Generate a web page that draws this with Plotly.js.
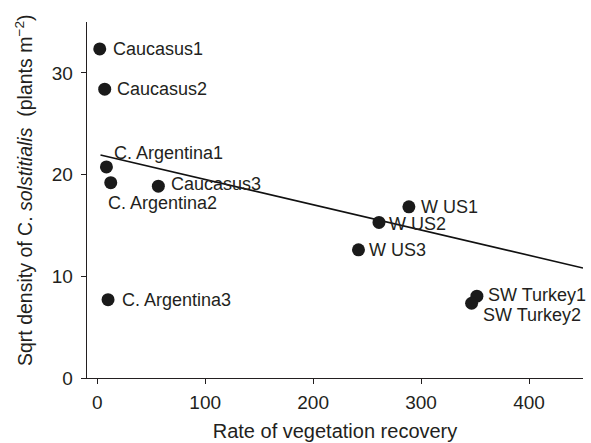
<!DOCTYPE html>
<html>
<head>
<meta charset="utf-8">
<script src="https://cdn.plot.ly/plotly-3.0.1.min.js"></script>
<style>html,body{margin:0;padding:0;background:#fff}#chart{width:591px;height:443px}</style>
</head>
<body>
<div id="chart"></div>
<script>
// Data
const sites = ["Caucasus1","Caucasus2","C. Argentina1","C. Argentina2","Caucasus3","C. Argentina3","W US1","W US2","W US3","SW Turkey1","SW Turkey2"];
const recovery = [2.3, 6.9, 8.5, 12.5, 56.6, 10.0, 288.7, 261.0, 242.0, 351.7, 346.8];
const sqrtDensity = [32.35, 28.4, 20.75, 19.2, 18.86, 7.7, 16.83, 15.3, 12.6, 8.04, 7.35];
// Fitted line as drawn in the reference (endpoints)
const trendX = [3, 450];
const trendY = [21.93, 10.82];
const xTicks = [0, 100, 200, 300, 400];
const yTicks = [0, 10, 20, 30];

// label offsets in screen pixels (right, down) – styling only
const labelOffset = {
  "Caucasus1": [11, 0],
  "Caucasus2": [10, 0],
  "C. Argentina1": [6, -14],
  "C. Argentina2": [-5, 20],
  "Caucasus3": [11, -2.5],
  "C. Argentina3": [12, 0],
  "W US1": [10, 0.5],
  "W US2": [8.5, 1.5],
  "W US3": [9, 0.3],
  "SW Turkey1": [9.5, -1.7],
  "SW Turkey2": [9, 11.3]
};

const fontFam = "Liberation Sans, Arial, sans-serif";
const txtColor = "#231f20";

const annotations = sites.map((s, i) => ({
  x: recovery[i], y: sqrtDensity[i], xref: "x", yref: "y",
  text: s, showarrow: false, xanchor: "left", yanchor: "middle",
  xshift: labelOffset[s][0], yshift: -labelOffset[s][1],
  font: {family: fontFam, size: 18, color: txtColor}
}));

// y-axis title drawn as a rotated annotation for exact placement
annotations.push({
  xref: "paper", yref: "paper", x: 0, y: 0.5, xanchor: "center", yanchor: "middle",
  xshift: -63, yshift: 10, textangle: -90, showarrow: false,
  text: "Sqrt density of C. <i>solstitialis</i>\u00a0 (plants m<sup>\u22122</sup>)",
  font: {family: fontFam, size: 19.5, color: txtColor}
});

const traces = [
  {x: trendX, y: trendY, mode: "lines", type: "scatter",
   line: {color: "#111", width: 1.6}, hoverinfo: "skip"},
  {x: recovery, y: sqrtDensity, mode: "markers", type: "scatter",
   marker: {color: "#1a1a1a", size: 13}, text: sites}
];

const layout = {
  width: 591, height: 443,
  margin: {l: 87, r: 8, t: 22, b: 65},
  showlegend: false,
  paper_bgcolor: "#fff", plot_bgcolor: "#fff",
  font: {family: fontFam, size: 19, color: txtColor},
  xaxis: {
    range: [-9.5, 450], tickvals: xTicks, ticks: "outside", ticklen: 5,
    tickcolor: "#231f20", showline: true, linecolor: "#231f20", linewidth: 1.3,
    showgrid: false, zeroline: false, ticklabelstandoff: 2,
    tickfont: {size: 19},
    title: {text: "Rate of vegetation recovery", font: {size: 20}, standoff: 12}
  },
  yaxis: {
    range: [0, 35], tickvals: yTicks, ticks: "outside", ticklen: 5,
    tickcolor: "#231f20", showline: true, linecolor: "#231f20", linewidth: 1.3,
    showgrid: false, zeroline: false, ticklabelstandoff: 4,
    tickfont: {size: 19}
  },
  annotations: annotations
};

Plotly.newPlot("chart", traces, layout, {displayModeBar: false, staticPlot: true});
</script>
</body>
</html>
